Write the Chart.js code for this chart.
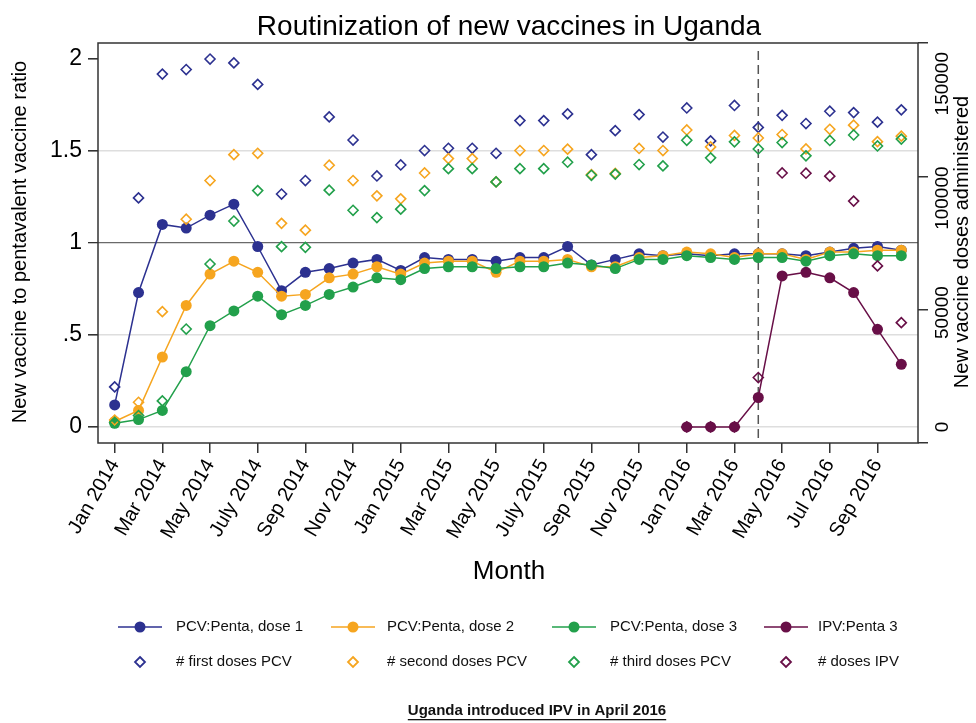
<!DOCTYPE html>
<html>
<head>
<meta charset="utf-8">
<script src="https://cdn.jsdelivr.net/npm/chart.js@4.4.1/dist/chart.umd.min.js"></script>
<style>
  html, body { margin: 0; padding: 0; background: #fff; }
</style>
</head>
<body>
<canvas id="myChart" width="976" height="723"></canvas>
<script>
// Months on the x axis (index 0 = Jan 2014)
var months = ["Jan 2014", "Feb 2014", "Mar 2014", "Apr 2014", "May 2014", "Jun 2014",
  "July 2014", "Aug 2014", "Sep 2014", "Oct 2014", "Nov 2014", "Dec 2014",
  "Jan 2015", "Feb 2015", "Mar 2015", "Apr 2015", "May 2015", "Jun 2015",
  "July 2015", "Aug 2015", "Sep 2015", "Oct 2015", "Nov 2015", "Dec 2015",
  "Jan 2016", "Feb 2016", "Mar 2016", "Apr 2016", "May 2016", "Jun 2016",
  "Jul 2016", "Aug 2016", "Sep 2016", "Oct 2016"];
var introMonth = "Apr 2016";

// New vaccine : pentavalent ratios (left axis)
var ratioDose1 = [0.12, 0.73, 1.10, 1.08, 1.15, 1.21, 0.98, 0.74, 0.84, 0.86, 0.89, 0.91,
  0.85, 0.92, 0.91, 0.91, 0.90, 0.92, 0.92, 0.98, 0.88, 0.91, 0.94, 0.93,
  0.94, 0.93, 0.94, 0.94, 0.94, 0.93, 0.95, 0.97, 0.98, 0.96];
var ratioDose2 = [0.03, 0.09, 0.38, 0.66, 0.83, 0.90, 0.84, 0.71, 0.72, 0.81, 0.83, 0.87,
  0.83, 0.89, 0.90, 0.90, 0.84, 0.90, 0.90, 0.91, 0.87, 0.87, 0.92, 0.93,
  0.95, 0.94, 0.92, 0.94, 0.94, 0.91, 0.95, 0.95, 0.96, 0.96];
var ratioDose3 = [0.02, 0.04, 0.09, 0.30, 0.55, 0.63, 0.71, 0.61, 0.66, 0.72, 0.76, 0.81,
  0.80, 0.86, 0.87, 0.87, 0.86, 0.87, 0.87, 0.89, 0.88, 0.86, 0.91, 0.91,
  0.93, 0.92, 0.91, 0.92, 0.92, 0.90, 0.93, 0.94, 0.93, 0.93];
var ratioIPV = [null, null, null, null, null, null, null, null, null, null, null, null,
  null, null, null, null, null, null, null, null, null, null, null, null,
  0, 0, 0, 0.16, 0.82, 0.84, 0.81, 0.73, 0.53, 0.34];

// Doses administered (right axis)
var dosesFirst = [17500, 100100, 154200, 156200, 160800, 159100, 149700, 101800, 107700, 135500, 125400, 109700,
  114500, 120800, 121800, 121800, 119600, 133900, 133900, 136800, 119000, 129500, 136500, 126700,
  139400, 125000, 140500, 130900, 136200, 132600, 138000, 137400, 133200, 138600];
var dosesSecond = [3000, 10800, 50400, 90800, 107700, 119000, 119600, 89000, 86000, 114400, 107700, 101000,
  99700, 111000, 117300, 117300, 107100, 120800, 120800, 121400, 110300, 110800, 121700, 120800,
  129800, 122400, 127400, 126300, 127800, 121500, 130100, 131900, 124700, 127100];
var dosesThird = [2000, 5000, 11400, 42800, 71200, 90000, 103300, 78800, 78500, 103500, 94700, 91500,
  95200, 103300, 112900, 112900, 107100, 112900, 112900, 115700, 110000, 110500, 114700, 114100,
  125300, 117600, 124600, 121500, 124300, 118500, 125200, 127600, 122800, 125800];
var dosesIPV = [null, null, null, null, null, null, null, null, null, null, null, null,
  null, null, null, null, null, null, null, null, null, null, null, null,
  0, 0, 0, 21600, 111000, 110900, 109600, 98700, 70400, 45600];

// Tick labels
var leftTicks = [0, 0.5, 1, 1.5, 2];
var leftTickLabels = ["0", ".5", "1", "1.5", "2"];
var rightTicks = [0, 50000, 100000, 150000];
var rightTickLabels = ["0", "50000", "100000", "150000"];

var titleText = "Routinization of new vaccines in Uganda";
var noteText = "Uganda introduced IPV in April 2016";

var blue = "#2c3190", orange = "#f6a51f", green = "#22a04b", maroon = "#680f47";
var fontFamily = "'Liberation Sans', Arial, sans-serif";

Chart.defaults.font.family = fontFamily;
Chart.defaults.color = "#000";

function toPoints(arr) {
  return arr.map(function (v, i) { return { x: i, y: v }; });
}

function lineSet(label, values, color, order) {
  return {
    label: label, data: toPoints(values), yAxisID: "y", order: order,
    borderColor: color, backgroundColor: color, borderWidth: 1.5,
    pointStyle: "circle", pointRadius: 5.5, pointBorderWidth: 0,
    pointBackgroundColor: color, tension: 0, spanGaps: false
  };
}

function diamondSet(label, values, color, order) {
  return {
    label: label, data: toPoints(values), yAxisID: "y2", order: order,
    showLine: false, borderColor: color, backgroundColor: "rgba(0,0,0,0)",
    pointStyle: "rectRot", pointRadius: 5, pointBorderWidth: 1.6,
    pointBorderColor: color, pointBackgroundColor: "rgba(0,0,0,0)"
  };
}

// Frame, dashed intro line, texts and legend
var decor = {
  id: "decor",
  beforeDatasetsDraw: function (chart) {
    var ctx = chart.ctx, a = chart.chartArea;
    var x = chart.scales.x.getPixelForValue(months.indexOf(introMonth));
    ctx.save();
    ctx.strokeStyle = "#555";
    ctx.lineWidth = 1.5;
    ctx.setLineDash([9, 5]);
    ctx.beginPath();
    ctx.moveTo(x, a.top + 8);
    ctx.lineTo(x, a.bottom);
    ctx.stroke();
    ctx.setLineDash([]);
    ctx.strokeStyle = "#333";
    ctx.lineWidth = 1.5;
    ctx.strokeRect(a.left, a.top, a.right - a.left, a.bottom - a.top);
    ctx.restore();
  },
  afterDraw: function (chart) {
    var ctx = chart.ctx, y2 = chart.scales.y2;
    ctx.save();
    ctx.fillStyle = "#000";

    // title
    ctx.font = "28px " + fontFamily;
    ctx.textAlign = "center";
    ctx.textBaseline = "alphabetic";
    ctx.fillText(titleText, 509, 35);

    // x title
    ctx.font = "26px " + fontFamily;
    ctx.textBaseline = "middle";
    ctx.fillText("Month", 509, 572);

    // left title
    ctx.font = "20px " + fontFamily;
    ctx.save();
    ctx.translate(20, 242);
    ctx.rotate(-Math.PI / 2);
    ctx.fillText("New vaccine to pentavalent vaccine ratio", 0, 0);
    ctx.restore();

    // right title
    ctx.save();
    ctx.translate(962, 242);
    ctx.rotate(-Math.PI / 2);
    ctx.fillText("New vaccine doses administered", 0, 0);
    ctx.restore();

    // right tick labels (rotated)
    ctx.font = "19px " + fontFamily;
    rightTicks.forEach(function (v, i) {
      ctx.save();
      ctx.translate(943, y2.getPixelForValue(v));
      ctx.rotate(-Math.PI / 2);
      ctx.fillText(rightTickLabels[i], 0, 0);
      ctx.restore();
    });

    // legend: 4 columns x 2 rows
    var colSym = [140, 353, 574, 786];
    var colText = [176, 387, 610, 818];
    var rowY = [627, 662];
    ctx.font = "15px " + fontFamily;
    ctx.textAlign = "left";
    chart.data.datasets.forEach(function (ds, k) {
      var row = k < 4 ? 0 : 1, col = k % 4;
      var cx = colSym[col], cy = rowY[row];
      ctx.strokeStyle = ds.borderColor;
      ctx.fillStyle = ds.borderColor;
      if (row === 0) {
        ctx.lineWidth = 1.5;
        ctx.beginPath();
        ctx.moveTo(cx - 22, cy);
        ctx.lineTo(cx + 22, cy);
        ctx.stroke();
        ctx.beginPath();
        ctx.arc(cx, cy, 5.5, 0, Math.PI * 2);
        ctx.fill();
      } else {
        ctx.lineWidth = 1.8;
        ctx.beginPath();
        ctx.moveTo(cx, cy - 5);
        ctx.lineTo(cx + 5, cy);
        ctx.lineTo(cx, cy + 5);
        ctx.lineTo(cx - 5, cy);
        ctx.closePath();
        ctx.stroke();
      }
      ctx.fillStyle = "#111";
      ctx.fillText(ds.label, colText[col], cy);
    });

    // underlined note
    ctx.font = "bold 15px " + fontFamily;
    ctx.textAlign = "center";
    ctx.fillStyle = "#111";
    ctx.fillText(noteText, 537, 711);
    var w = ctx.measureText(noteText).width;
    ctx.fillRect(537 - w / 2, 719, w, 1.3);
    ctx.restore();
  }
};

var data = {
  datasets: [
    lineSet("PCV:Penta, dose 1", ratioDose1, blue, 8),
    lineSet("PCV:Penta, dose 2", ratioDose2, orange, 7),
    lineSet("PCV:Penta, dose 3", ratioDose3, green, 6),
    lineSet("IPV:Penta 3", ratioIPV, maroon, 5),
    diamondSet("# first doses PCV", dosesFirst, blue, 4),
    diamondSet("# second doses PCV", dosesSecond, orange, 3),
    diamondSet("# third doses PCV", dosesThird, green, 2),
    diamondSet("# doses IPV", dosesIPV, maroon, 1)
  ]
};

var config = {
  type: "line",
  data: data,
  options: {
    responsive: false,
    animation: false,
    layout: { padding: { top: 43, left: 0, right: 0, bottom: 0 } },
    plugins: { legend: { display: false }, title: { display: false }, tooltip: { enabled: false } },
    scales: {
      x: {
        type: "linear", min: -0.7, max: 33.7,
        afterFit: function (s) { s.height = 280; },
        border: { display: false },
        grid: { drawOnChartArea: false, drawTicks: true, tickLength: 10, tickColor: "#333", lineWidth: 1.5 },
        ticks: {
          stepSize: 2, includeBounds: false, autoSkip: false,
          minRotation: 60, maxRotation: 60, padding: 2,
          font: { size: 20 }, color: "#000",
          callback: function (v) { return months[v]; }
        }
      },
      y: {
        position: "left", min: -0.087, max: 2.085,
        afterFit: function (s) { s.width = 98; },
        border: { display: false },
        grid: {
          drawTicks: true, tickLength: 10, tickColor: "#333",
          color: function (c) {
            var v = c.tick ? c.tick.value : null;
            if (v === 1) return "#6a6a6a";
            if (v === 2) return "rgba(0,0,0,0)";
            return "#dedede";
          },
          lineWidth: function (c) { return (c.tick && c.tick.value === 1) ? 1.3 : 1.6; }
        },
        ticks: {
          stepSize: 0.5, includeBounds: false, padding: 6,
          font: { size: 23 }, color: "#000",
          callback: function (v) { var i = leftTicks.indexOf(v); return i >= 0 ? leftTickLabels[i] : ""; }
        }
      },
      y2: {
        position: "right", min: -7000, max: 167800,
        afterFit: function (s) { s.width = 58; },
        border: { display: false },
        grid: { drawOnChartArea: false, drawTicks: true, tickLength: 10, tickColor: "#333", lineWidth: 1.5 },
        ticks: { stepSize: 50000, includeBounds: false, display: false }
      }
    }
  },
  plugins: [decor]
};

var myChart = new Chart(document.getElementById("myChart").getContext("2d"), config);
</script>
</body>
</html>
